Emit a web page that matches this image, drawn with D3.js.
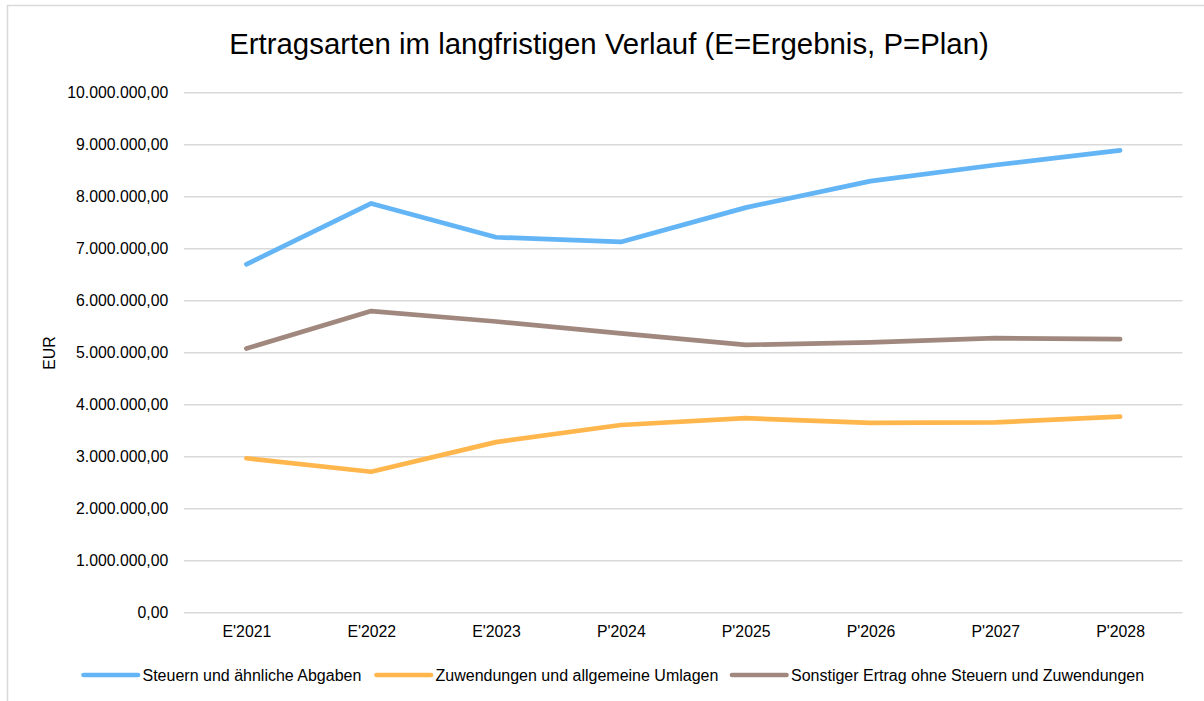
<!DOCTYPE html>
<html>
<head>
<meta charset="utf-8">
<script src="https://cdn.jsdelivr.net/npm/d3@7"></script>
<style>
  body { margin: 0; background: #fff; }
  svg { font-family: "Liberation Sans", Arial, sans-serif; }
</style>
</head>
<body>
<div id="chart"></div>
<script>
// categories and series (values in EUR)
var years = ["E'2021", "E'2022", "E'2023", "P'2024", "P'2025", "P'2026", "P'2027", "P'2028"];
var steuern = [6700000, 7870000, 7220000, 7130000, 7790000, 8300000, 8610000, 8890000];
var zuwendungen = [2970000, 2710000, 3280000, 3610000, 3740000, 3650000, 3660000, 3770000];
var sonstiger = [5080000, 5800000, 5600000, 5370000, 5150000, 5200000, 5280000, 5260000];
var seriesNames = ["Steuern und ähnliche Abgaben", "Zuwendungen und allgemeine Umlagen", "Sonstiger Ertrag ohne Steuern und Zuwendungen"];
var yTicks = [0, 1000000, 2000000, 3000000, 4000000, 5000000, 6000000, 7000000, 8000000, 9000000, 10000000];

var series = [
  { name: seriesNames[0], values: steuern, color: "#64b5f6" },
  { name: seriesNames[1], values: zuwendungen, color: "#ffb74d" },
  { name: seriesNames[2], values: sonstiger, color: "#a1887f" }
];

var W = 1204, H = 701;
var margin = {top: 92.7, right: 21.5, bottom: 88.3, left: 184};
var width = W - margin.left - margin.right,
    height = H - margin.top - margin.bottom;

// German number format: 10.000.000,00
var de = d3.formatLocale({decimal: ",", thousands: ".", grouping: [3], currency: ["", " €"]});
var fmt = de.format(",.2f");

var svg = d3.select("#chart").append("svg")
    .attr("width", W).attr("height", H);

// chart area border
svg.append("rect")
    .attr("x", 7.5).attr("y", 5.5)
    .attr("width", 1220).attr("height", 720)
    .attr("fill", "#fff")
    .attr("stroke", "#d9d9d9").attr("stroke-width", 1.5);

svg.append("text")
    .attr("x", 609).attr("y", 54)
    .attr("text-anchor", "middle")
    .style("font-size", "29.4px")
    .style("fill", "#000")
    .text("Ertragsarten im langfristigen Verlauf (E=Ergebnis, P=Plan)");

var g = svg.append("g")
    .attr("transform", "translate(" + margin.left + "," + margin.top + ")");

var x = d3.scalePoint().domain(years).range([0, width]).padding(0.5);
var y = d3.scaleLinear().domain([0, 10000000]).range([height, 0]);

// gridlines
g.selectAll(".grid").data(yTicks).enter().append("line")
    .attr("class", "grid")
    .attr("x1", 0).attr("x2", width)
    .attr("y1", function(d) { return y(d); })
    .attr("y2", function(d) { return y(d); })
    .attr("stroke", "#d9d9d9").attr("stroke-width", 1.5);

var yAxis = d3.axisLeft(y).tickValues(yTicks).tickFormat(fmt).tickSize(0).tickPadding(15.7);
var yg = g.append("g").call(yAxis);
yg.select(".domain").remove();
yg.selectAll("text").style("font-size", "15.8px").style("fill", "#000").attr("font-family", null);

var xAxis = d3.axisBottom(x).tickSize(0).tickPadding(13.5);
var xg = g.append("g").attr("transform", "translate(0," + height + ")").call(xAxis);
xg.select(".domain").remove();
xg.selectAll("text").style("font-size", "15.8px").style("fill", "#000").attr("font-family", null);

svg.append("text")
    .attr("transform", "translate(55,353) rotate(-90)")
    .attr("text-anchor", "middle")
    .style("font-size", "15.8px")
    .text("EUR");

var line = d3.line()
    .x(function(d, i) { return x(years[i]); })
    .y(function(d) { return y(d); });

g.selectAll(".series").data(series).enter().append("path")
    .attr("class", "series")
    .attr("d", function(d) { return line(d.values); })
    .attr("fill", "none")
    .attr("stroke", function(d) { return d.color; })
    .attr("stroke-width", 4.7)
    .attr("stroke-linecap", "round")
    .attr("stroke-linejoin", "round");

// legend
var legendX = [83.5, 376.5, 732];
var leg = svg.selectAll(".legend").data(series).enter().append("g")
    .attr("class", "legend")
    .attr("transform", function(d, i) { return "translate(" + legendX[i] + ",675)"; });
leg.append("line")
    .attr("x1", 0).attr("x2", 54.5)
    .attr("stroke", function(d) { return d.color; })
    .attr("stroke-width", 4.7)
    .attr("stroke-linecap", "round");
leg.append("text")
    .attr("x", 59).attr("y", 5.5)
    .style("font-size", "16px")
    .text(function(d) { return d.name; });
</script>
</body>
</html>
